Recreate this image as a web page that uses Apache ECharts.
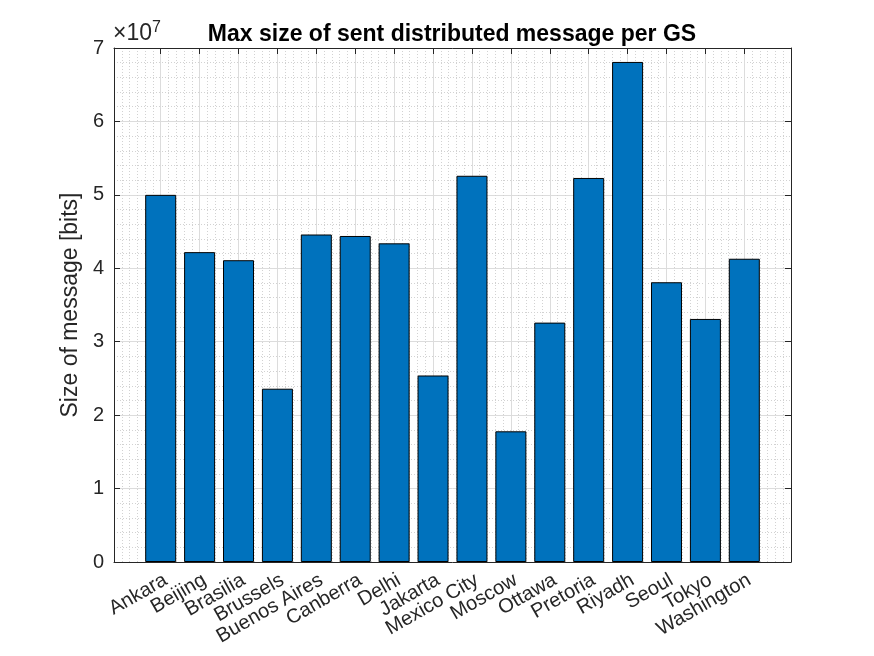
<!DOCTYPE html>
<html>
<head>
<meta charset="utf-8">
<script src="https://cdn.jsdelivr.net/npm/echarts@6/dist/echarts.min.js"></script>
<style>
  html, body { margin: 0; padding: 0; background: #fff; }
  #chart { width: 874px; height: 656px; }
</style>
</head>
<body>
<div id="chart"></div>
<script>
const cities = ['Ankara', 'Beijing', 'Brasilia', 'Brussels', 'Buenos Aires', 'Canberra', 'Delhi', 'Jakarta',
  'Mexico City', 'Moscow', 'Ottawa', 'Pretoria', 'Riyadh', 'Seoul', 'Tokyo', 'Washington']
const msgSize = [5.00e7, 4.22e7, 4.11e7, 2.36e7, 4.46e7, 4.44e7, 4.34e7, 2.54e7,
  5.26e7, 1.78e7, 3.26e7, 5.23e7, 6.81e7, 3.81e7, 3.31e7, 4.13e7]
const yTicks = [0, 1e7, 2e7, 3e7, 4e7, 5e7, 6e7, 7e7]

const font = 'Liberation Sans, Arial, sans-serif'
const axisColor = '#262626'
const tickIdx = cities.map((_, i) => i)

// plot box (MATLAB-like xlim with padding around the categories)
const W = 874, boxLeft = 114, boxRight = 791, boxTop = 48, boxBottom = 562
const xMin = -1.2, xMax = 16.2
const step = (boxRight - boxLeft) / (xMax - xMin)
// label grid: category axis whose first/last category sit on the first/last bar
const labLeft = boxLeft + (0 - xMin) * step
const labRight = boxLeft + (cities.length - 1 - xMin) * step

const chart = echarts.init(document.getElementById('chart'))

const xBase = { type: 'value', min: xMin, max: xMax, gridIndex: 0 }

chart.setOption({
  animation: false,
  backgroundColor: '#fff',
  title: {
    text: 'Max size of sent distributed message per GS',
    left: 447, top: 18, textAlign: 'center',
    textStyle: { fontFamily: font, fontSize: 23, fontWeight: 'bold', color: '#000' },
  },
  graphic: [{
    type: 'text', left: 113, top: 20,
    style: {
      text: '{a|×10}{b|7}',
      rich: {
        a: { fontFamily: font, fontSize: 23, fill: axisColor },
        b: { fontFamily: font, fontSize: 16, fill: axisColor, verticalAlign: 'top', padding: [0, 0, 12, 0] },
      },
    },
  }],
  grid: [
    { left: boxLeft, right: W - boxRight, top: boxTop, bottom: 656 - boxBottom, containLabel: false },
    { left: labLeft, right: W - labRight, top: boxTop, bottom: 656 - boxBottom, containLabel: false },
  ],
  xAxis: [
    // minor dotted grid
    {
      ...xBase, interval: 0.2,
      axisLine: { show: false }, axisTick: { show: false }, axisLabel: { show: false },
      splitLine: { show: true, lineStyle: { color: '#d2d2d2', type: [1, 2], width: 1 } },
    },
    // bottom axis with category ticks and major grid
    {
      ...xBase, position: 'bottom',
      axisLine: { show: true, onZero: false, lineStyle: { color: axisColor } },
      axisTick: { show: true, inside: true, length: 6, customValues: tickIdx, lineStyle: { color: axisColor } },
      axisLabel: { show: false },
      splitLine: { show: true, lineStyle: { color: '#dcdcdc', width: 1 } },
    },
    // top box edge
    {
      ...xBase, position: 'top',
      axisLine: { show: true, onZero: false, lineStyle: { color: axisColor } },
      axisTick: { show: true, inside: true, length: 6, customValues: tickIdx, lineStyle: { color: axisColor } },
      axisLabel: { show: false }, splitLine: { show: false },
    },
    // category labels
    {
      type: 'category', gridIndex: 1, data: cities, boundaryGap: false, position: 'bottom',
      axisLine: { show: false }, axisTick: { show: false }, splitLine: { show: false },
      axisLabel: {
        interval: 0, rotate: 30, margin: 8, align: 'right', verticalAlign: 'top',
        fontFamily: font, fontSize: 20, color: axisColor,
      },
    },
  ],
  yAxis: [
    {
      type: 'value', min: 0, max: 7e7, interval: 1e7, position: 'left',
      name: 'Size of message [bits]', nameLocation: 'middle', nameGap: 30,
      nameTextStyle: { fontFamily: font, fontSize: 23, color: axisColor },
      axisLine: { show: true, onZero: false, lineStyle: { color: axisColor } },
      axisTick: { show: true, inside: true, length: 6, lineStyle: { color: axisColor } },
      axisLabel: {
        fontFamily: font, fontSize: 20, color: axisColor, margin: 10,
        formatter: v => yTicks.includes(v) ? String(Math.round(v / 1e7)) : '',
      },
      splitLine: { show: true, lineStyle: { color: '#dcdcdc', width: 1 } },
      minorTick: { show: false, splitNumber: 5 },
      minorSplitLine: { show: true, lineStyle: { color: '#d2d2d2', type: [1, 2], width: 1 } },
    },
    {
      type: 'value', min: 0, max: 7e7, interval: 1e7, position: 'right',
      axisLine: { show: true, onZero: false, lineStyle: { color: axisColor } },
      axisTick: { show: true, inside: true, length: 6, lineStyle: { color: axisColor } },
      axisLabel: { show: false }, splitLine: { show: false },
    },
    {
      type: 'value', gridIndex: 1, show: false, min: 0, max: 7e7,
    },
  ],
  series: [{
    type: 'bar',
    xAxisIndex: 1,
    yAxisIndex: 0,
    data: msgSize.map((v, i) => [i, v]),
    barWidth: 31,
    itemStyle: { color: '#0072BD', borderColor: '#000', borderWidth: 1 },
    z: 3,
  }],
})
</script>
</body>
</html>
